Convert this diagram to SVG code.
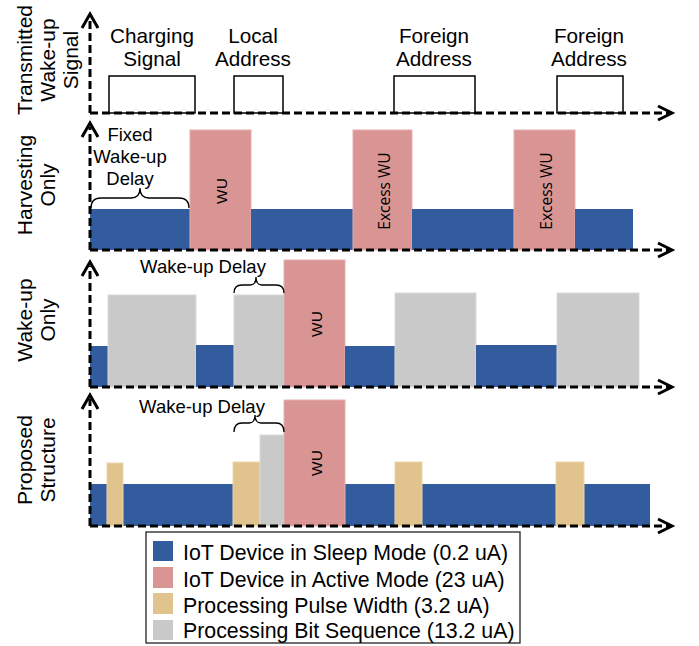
<svg xmlns="http://www.w3.org/2000/svg" width="699" height="646" viewBox="0 0 699 646">
<style>
.lbl{font-family:"Liberation Sans",Arial,sans-serif;font-size:20.7px;fill:#000;text-anchor:middle}
.ax{font-family:"Liberation Sans",Arial,sans-serif;font-size:21px;fill:#000;text-anchor:middle}
.dl{font-family:"Liberation Sans",Arial,sans-serif;font-size:18.5px;fill:#000;text-anchor:middle}
.wu{font-family:"Liberation Sans",Arial,sans-serif;font-size:15.5px;fill:#000;text-anchor:middle}
.ex{font-family:"Open Sans","Noto Sans",sans-serif;font-size:15.5px;fill:#000;text-anchor:middle}
.lg{font-family:"Liberation Sans",Arial,sans-serif;font-size:21.3px;fill:#000}
.axis{stroke:#000;stroke-width:3;stroke-dasharray:8 4;fill:none}
.head{stroke:#000;stroke-width:3;fill:none;stroke-linejoin:miter}
.sleep{fill:#335C9F}
.active{fill:#D99594;stroke:#E6AFAE;stroke-width:1}
.pulse{fill:#E1C38D;stroke:#ECD6AE;stroke-width:1}
.bits{fill:#C9C9C9;stroke:#DADADA;stroke-width:1}
.sig{fill:#fff;stroke:#000;stroke-width:1.5}
.brace{fill:none;stroke:#000;stroke-width:1.3}
</style>

<!-- Panel 1: Transmitted wake-up signal -->
<g id="panel-transmitted">
  <text class="ax" transform="translate(32,60) rotate(-90)">Transmitted</text>
  <text class="ax" transform="translate(55,60) rotate(-90)">Wake-up</text>
  <text class="ax" transform="translate(78,60) rotate(-90)">Signal</text>
  <g id="charging-signal">
    <rect class="sig" x="109" y="76" width="86" height="37"/>
    <text class="lbl" x="152" y="43">Charging</text>
    <text class="lbl" x="152" y="66">Signal</text>
  </g>
  <g id="local-address">
    <rect class="sig" x="234" y="76" width="49" height="37"/>
    <text class="lbl" x="253" y="43">Local</text>
    <text class="lbl" x="253" y="66">Address</text>
  </g>
  <g id="foreign-address-1">
    <rect class="sig" x="394" y="76" width="81" height="37"/>
    <text class="lbl" x="434" y="43">Foreign</text>
    <text class="lbl" x="434" y="66">Address</text>
  </g>
  <g id="foreign-address-2">
    <rect class="sig" x="557" y="76" width="66" height="37"/>
    <text class="lbl" x="589" y="43">Foreign</text>
    <text class="lbl" x="589" y="66">Address</text>
  </g>
</g>

<!-- Panel 2: Harvesting only -->
<g id="panel-harvesting">
  <text class="ax" transform="translate(32,185) rotate(-90)">Harvesting</text>
  <text class="ax" transform="translate(55,185) rotate(-90)">Only</text>
  <rect class="sleep" x="90" y="209" width="100" height="41"/>
  <g id="h-wu">
    <rect class="active" x="190" y="130" width="61" height="120"/>
    <text class="wu" transform="translate(227,191) rotate(-90)">WU</text>
  </g>
  <rect class="sleep" x="251" y="209" width="102" height="41"/>
  <g id="h-excess-1">
    <rect class="active" x="353" y="130" width="59" height="120"/>
    <text class="ex" transform="translate(390,191) rotate(-90)">Excess WU</text>
  </g>
  <rect class="sleep" x="412" y="209" width="102" height="41"/>
  <g id="h-excess-2">
    <rect class="active" x="514" y="130" width="61" height="120"/>
    <text class="ex" transform="translate(552,191) rotate(-90)">Excess WU</text>
  </g>
  <rect class="sleep" x="575" y="209" width="58" height="41"/>
  <g id="h-delay">
    <text class="dl" x="130" y="141">Fixed</text>
    <text class="dl" x="130" y="163">Wake-up</text>
    <text class="dl" x="130" y="185">Delay</text>
    <path class="brace" d="M91,208 Q91,198 101,198 L131,198 Q140,198 140,188 Q140,198 149,198 L179,198 Q189,198 189,208"/>
  </g>
</g>

<!-- Panel 3: Wake-up only -->
<g id="panel-wakeup">
  <text class="ax" transform="translate(32,320) rotate(-90)">Wake-up</text>
  <text class="ax" transform="translate(55,320) rotate(-90)">Only</text>
  <rect class="sleep" x="90" y="346" width="18" height="41"/>
  <rect class="bits" x="108" y="295" width="88" height="92"/>
  <rect class="sleep" x="196" y="345" width="38" height="42"/>
  <rect class="bits" x="234" y="295" width="50" height="92"/>
  <g id="w-wu">
    <rect class="active" x="284" y="260" width="61" height="127"/>
    <text class="wu" transform="translate(322,324) rotate(-90)">WU</text>
  </g>
  <rect class="sleep" x="345" y="346" width="50" height="41"/>
  <rect class="bits" x="395" y="293" width="81" height="94"/>
  <rect class="sleep" x="476" y="345" width="81" height="42"/>
  <rect class="bits" x="557" y="293" width="82" height="94"/>
  <g id="w-delay">
    <text class="dl" x="203" y="273">Wake-up Delay</text>
    <path class="brace" d="M234,293 Q234,285 242,285 L250,285 Q256,285 256,277 Q256,285 262,285 L276,285 Q284,285 284,293"/>
  </g>
</g>

<!-- Panel 4: Proposed structure -->
<g id="panel-proposed">
  <text class="ax" transform="translate(32,460) rotate(-90)">Proposed</text>
  <text class="ax" transform="translate(55,460) rotate(-90)">Structure</text>
  <rect class="sleep" x="90" y="484" width="560" height="42"/>
  <rect class="pulse" x="107" y="463" width="16" height="63"/>
  <rect class="pulse" x="233" y="462" width="27" height="64"/>
  <rect class="bits" x="260" y="435" width="24" height="91"/>
  <g id="p-wu">
    <rect class="active" x="284" y="400" width="61" height="126"/>
    <text class="wu" transform="translate(322,463) rotate(-90)">WU</text>
  </g>
  <rect class="pulse" x="395" y="462" width="27" height="64"/>
  <rect class="pulse" x="556" y="462" width="28" height="64"/>
  <g id="p-delay">
    <text class="dl" x="202" y="413">Wake-up Delay</text>
    <path class="brace" d="M234,432 Q234,423 242,423 L249,423 Q255,423 255,415 Q255,423 261,423 L276,423 Q284,423 284,432"/>
  </g>
</g>

<!-- Axes -->
<g id="connectors">
  <line class="axis" x1="90" y1="113" x2="90" y2="18"/>
  <line class="axis" x1="90" y1="113" x2="670" y2="113"/>
  <polyline class="head" points="82,28 90,14 98,28"/>
  <polyline class="head" points="658,106 672,113 658,120"/>

  <line class="axis" x1="90" y1="250" x2="90" y2="127"/>
  <line class="axis" x1="90" y1="250" x2="670" y2="250"/>
  <polyline class="head" points="82,137 90,123 98,137"/>
  <polyline class="head" points="658,243 672,250 658,257"/>

  <line class="axis" x1="90" y1="387" x2="90" y2="266"/>
  <line class="axis" x1="90" y1="387" x2="670" y2="387"/>
  <polyline class="head" points="82,276 90,262 98,276"/>
  <polyline class="head" points="658,380 672,387 658,394"/>

  <line class="axis" x1="90" y1="526" x2="90" y2="399"/>
  <line class="axis" x1="90" y1="526" x2="670" y2="526"/>
  <polyline class="head" points="82,409 90,395 98,409"/>
  <polyline class="head" points="658,519 672,526 658,533"/>
</g>

<!-- Legend -->
<g id="legend">
  <rect x="146" y="532" width="374" height="111" fill="#fff" stroke="#222" stroke-width="1.3"/>
  <rect class="sleep" x="153" y="541" width="20" height="20"/>
  <text class="lg" x="183" y="560">IoT Device in Sleep Mode (0.2 uA)</text>
  <rect x="153" y="567" width="20" height="21" fill="#D99594"/>
  <text class="lg" x="183" y="587">IoT Device in Active Mode (23 uA)</text>
  <rect x="153" y="593" width="20" height="21" fill="#E1C38D"/>
  <text class="lg" x="183" y="613">Processing Pulse Width (3.2 uA)</text>
  <rect x="153" y="620" width="20" height="20" fill="#C9C9C9"/>
  <text class="lg" x="183" y="638">Processing Bit Sequence (13.2 uA)</text>
</g>
</svg>
